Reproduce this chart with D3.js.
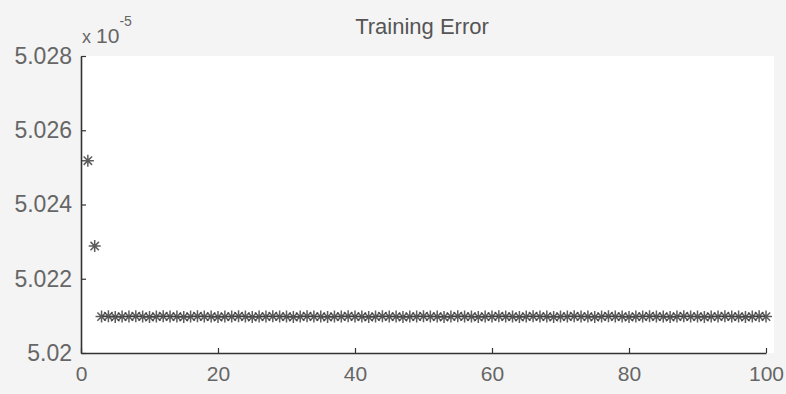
<!DOCTYPE html>
<html>
<head>
<meta charset="utf-8">
<script src="https://cdn.jsdelivr.net/npm/d3@7"></script>
<style>
  html, body { margin: 0; padding: 0; background: #f3f3f3; }
  svg { display: block; }
  text { font-family: "Liberation Sans", Arial, sans-serif; }
</style>
</head>
<body>
<div id="chart"></div>
<script>
// training error per epoch (values in units of 1e-5)
const errorValues = [
  5.02518, 5.02288, 5.02098, 5.02099, 5.02097, 5.02098, 5.02098, 5.02099, 5.02098, 5.02097,
  5.02098, 5.02099, 5.02098, 5.02098, 5.02097, 5.02098, 5.02099, 5.02098, 5.02098, 5.02097,
  5.02098, 5.02098, 5.02099, 5.02098, 5.02097, 5.02098, 5.02098, 5.02099, 5.02098, 5.02098,
  5.02097, 5.02098, 5.02099, 5.02098, 5.02098, 5.02097, 5.02098, 5.02098, 5.02099, 5.02098,
  5.02098, 5.02097, 5.02098, 5.02099, 5.02098, 5.02098, 5.02097, 5.02098, 5.02098, 5.02099,
  5.02098, 5.02098, 5.02097, 5.02098, 5.02099, 5.02098, 5.02098, 5.02097, 5.02098, 5.02098,
  5.02099, 5.02098, 5.02098, 5.02097, 5.02098, 5.02099, 5.02098, 5.02098, 5.02097, 5.02098,
  5.02098, 5.02099, 5.02098, 5.02098, 5.02097, 5.02098, 5.02099, 5.02098, 5.02098, 5.02097,
  5.02098, 5.02098, 5.02099, 5.02098, 5.02098, 5.02097, 5.02098, 5.02099, 5.02098, 5.02098,
  5.02097, 5.02098, 5.02098, 5.02099, 5.02098, 5.02098, 5.02097, 5.02098, 5.02099, 5.02098
];
const epochs = d3.range(1, errorValues.length + 1);

const xTicks = [0, 20, 40, 60, 80, 100];
const yTicks = [5.02, 5.022, 5.024, 5.026, 5.028];
const yTickLabels = ["5.02", "5.022", "5.024", "5.026", "5.028"];

const titleText = "Training Error";
const exponentText = "-5";

const W = 786, H = 394;
const margin = { top: 56, right: 20, bottom: 41, left: 81 };

const svg = d3.select("#chart").append("svg")
  .attr("width", W)
  .attr("height", H);

svg.append("rect").attr("width", W).attr("height", H).attr("fill", "#f4f4f4");

const x = d3.scaleLinear().domain([0, 100]).range([margin.left, W - margin.right]);
const y = d3.scaleLinear().domain([5.02, 5.028]).range([H - margin.bottom, margin.top]);

// white plot area
svg.append("rect")
  .attr("x", x(0)).attr("y", y(5.028))
  .attr("width", x(100) - x(0) + 8).attr("height", y(5.02) - y(5.028))
  .attr("fill", "#ffffff");

// axes, MATLAB style ticks pointing inward
const xAxis = svg.append("g")
  .attr("transform", `translate(0,${y(5.02)})`)
  .call(d3.axisBottom(x).tickValues(xTicks).tickSizeInner(-5).tickSizeOuter(0).tickPadding(13));

const yAxis = svg.append("g")
  .attr("transform", `translate(${x(0)},0)`)
  .call(d3.axisLeft(y).tickValues(yTicks).tickFormat((d, i) => yTickLabels[i])
    .tickSizeInner(-5).tickSizeOuter(0).tickPadding(9));

[xAxis, yAxis].forEach((g) => {
  g.select(".domain").attr("stroke", "#333").attr("stroke-width", 1.6);
  g.selectAll(".tick line").attr("stroke", "#333").attr("stroke-width", 1.2);
  g.selectAll(".tick text")
    .attr("fill", "#666")
    .style("font-family", "'Liberation Sans', Arial, sans-serif");
});
yAxis.selectAll(".tick text").style("font-size", "23px");
xAxis.selectAll(".tick text").style("font-size", "21px");

// exponent label
const expLabel = svg.append("text")
  .attr("x", x(0) + 1)
  .attr("y", 43)
  .attr("fill", "#666")
  .style("font-size", "21px");
expLabel.append("tspan").text("x ").style("font-size", "18px");
expLabel.append("tspan").text("10");
expLabel.append("tspan").attr("dy", -17).style("font-size", "14px").text(exponentText);

// title
svg.append("text")
  .attr("x", 422)
  .attr("y", 34)
  .attr("text-anchor", "middle")
  .attr("fill", "#555")
  .style("font-size", "22px")
  .text(titleText);

// asterisk markers
const s = 6, d = 4.2;
const star = `M${-s},0H${s}M0,${-s}V${s}M${-d},${-d}L${d},${d}M${-d},${d}L${d},${-d}`;

svg.append("g")
  .selectAll("path")
  .data(epochs)
  .enter()
  .append("path")
  .attr("transform", (e, i) => `translate(${x(e)},${y(errorValues[i])})`)
  .attr("d", star)
  .attr("fill", "none")
  .attr("stroke", "#333")
  .attr("stroke-width", 1.5)
  .attr("opacity", 0.8);
</script>
</body>
</html>
